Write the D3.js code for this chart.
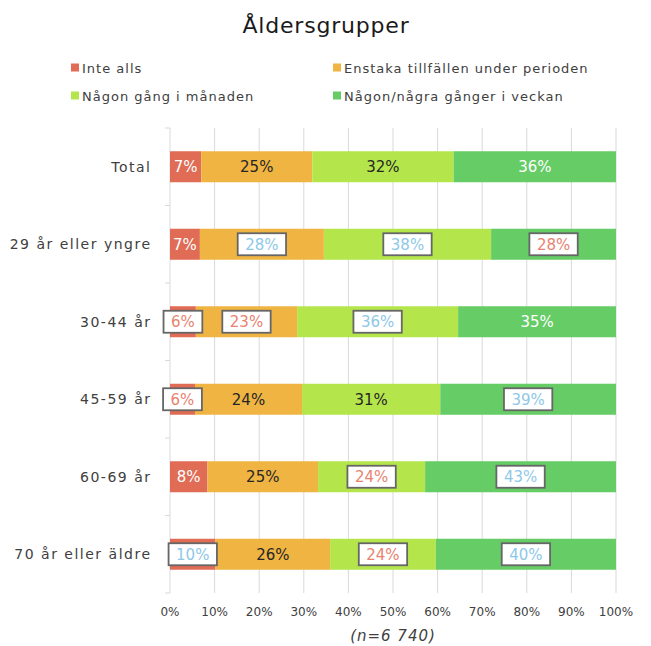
<!DOCTYPE html>
<html>
<head>
<meta charset="utf-8">
<script src="https://cdn.jsdelivr.net/npm/d3@7"></script>
<style>
  html, body { margin: 0; padding: 0; background: #fff; }
  svg { display: block; font-family: "DejaVu Sans", sans-serif; }
</style>
</head>
<body>
<svg id="chart" width="651" height="646"></svg>
<script>
// ---- data ----
const categories = ["Total", "29 år eller yngre", "30-44 år", "45-59 år", "60-69 år", "70 år eller äldre"];
const seriesNames = ["Inte alls", "Enstaka tillfällen under perioden", "Någon gång i månaden", "Någon/några gånger i veckan"];
const inteAlls   = [7.0, 6.7, 5.8, 5.6, 8.4, 10.2];
const enstaka    = [24.9, 27.8, 22.7, 24.0, 24.8, 25.7];
const manaden    = [31.7, 37.5, 36.1, 31.0, 24.0, 23.7];
const veckan     = [36.4, 28.0, 35.4, 39.4, 42.8, 40.4];
const xTicks = [0, 10, 20, 30, 40, 50, 60, 70, 80, 90, 100];
const titleText = "Åldersgrupper";
const noteText = "(n=6 740)";

// ---- label styles (per row, per series) ----
const labelStyles = [
  ["w", "d", "d", "w"],
  ["w", "bb", "bb", "br"],
  ["br", "br", "bb", "w"],
  ["br", "d", "d", "bb"],
  ["w", "d", "br", "bb"],
  ["bb", "d", "br", "bb"]
];

const colors = ["#E06C55", "#F0B443", "#B4E64C", "#66CC66"];
const seriesValues = [inteAlls, enstaka, manaden, veckan];

const svg = d3.select("#chart");

const x = d3.scaleLinear().domain([0, 100]).range([170, 616]);
const y = d3.scaleBand().domain(categories).range([128, 593]).paddingInner(0.6).paddingOuter(0.3);

// title
svg.append("text")
  .attr("x", 326).attr("y", 33)
  .attr("text-anchor", "middle")
  .attr("font-size", 22).attr("letter-spacing", 0.8)
  .attr("fill", "#1a1a1a")
  .text(titleText);

// legend
const legendPos = [[71, 73], [333, 73], [71, 101], [333, 101]];
seriesNames.forEach((name, i) => {
  const g = svg.append("g").attr("transform", `translate(${legendPos[i][0]},${legendPos[i][1]})`);
  g.append("rect").attr("x", 0).attr("y", -9.5).attr("width", 8).attr("height", 8).attr("fill", colors[i]);
  g.append("text").attr("x", 11).attr("y", 0)
    .attr("font-size", 13).attr("letter-spacing", 1)
    .attr("fill", "#404040").text(name);
});

// gridlines
svg.append("g").selectAll("line").data(xTicks).join("line")
  .attr("x1", d => x(d)).attr("x2", d => x(d))
  .attr("y1", 128).attr("y2", 593)
  .attr("stroke", "#d9d9d9").attr("stroke-width", 1);

// y axis ticks at band boundaries
const boundaries = categories.map(c => y(c) - y.step() * y.paddingInner() / 2);
boundaries.push(593);
boundaries[0] = 128;
svg.append("g").selectAll("line").data(boundaries).join("line")
  .attr("x1", 165).attr("x2", 170)
  .attr("y1", d => d).attr("y2", d => d)
  .attr("stroke", "#d9d9d9").attr("stroke-width", 1);

// x tick labels
svg.append("g").selectAll("text").data(xTicks).join("text")
  .attr("x", d => x(d)).attr("y", 616)
  .attr("text-anchor", "middle")
  .attr("font-size", 12).attr("fill", "#404040")
  .text(d => d + "%");

// y category labels
svg.append("g").selectAll("text").data(categories).join("text")
  .attr("x", 151.5).attr("y", d => y(d) + y.bandwidth() / 2 + 5)
  .attr("text-anchor", "end")
  .attr("font-size", 14).attr("letter-spacing", 1.5)
  .attr("fill", "#404040")
  .text(d => d);

// stacked bars
const rows = categories.map((c, i) => {
  let acc = 0;
  return seriesValues.map((s, j) => {
    const seg = { cat: c, row: i, ser: j, x0: acc, x1: acc + s[i], v: s[i] };
    acc += s[i];
    return seg;
  });
}).flat();

svg.append("g").selectAll("rect").data(rows).join("rect")
  .attr("x", d => x(d.x0)).attr("width", d => x(d.x1) - x(d.x0))
  .attr("y", d => y(d.cat)).attr("height", y.bandwidth())
  .attr("fill", d => colors[d.ser]);

// labels
const labelG = svg.append("g");
rows.forEach(d => {
  const st = labelStyles[d.row][d.ser];
  const cx = x((d.x0 + d.x1) / 2);
  const cy = y(d.cat) + y.bandwidth() / 2;
  const txt = Math.round(d.v) + "%";
  const g = labelG.append("g");
  let fill = "#262626";
  if (st === "w") fill = "#ffffff";
  if (st === "bb") fill = "#8EC8E8";
  if (st === "br") fill = "#E9826F";
  const t = g.append("text")
    .attr("x", cx).attr("y", cy + 5.5)
    .attr("text-anchor", "middle")
    .attr("font-size", 15)
    .attr("fill", fill)
    .text(txt);
  if (st === "bb" || st === "br") {
    const bb = t.node().getBBox();
    const w = bb.width + 15;
    g.insert("rect", "text")
      .attr("x", cx - w / 2).attr("y", cy - 11)
      .attr("width", w).attr("height", 22)
      .attr("fill", "#ffffff")
      .attr("stroke", "#666666").attr("stroke-width", 1.8);
  }
});

// note
svg.append("text")
  .attr("x", 393).attr("y", 641)
  .attr("text-anchor", "middle")
  .attr("font-size", 15).attr("font-style", "italic").attr("letter-spacing", 1)
  .attr("fill", "#404040")
  .text(noteText);
</script>
</body>
</html>
